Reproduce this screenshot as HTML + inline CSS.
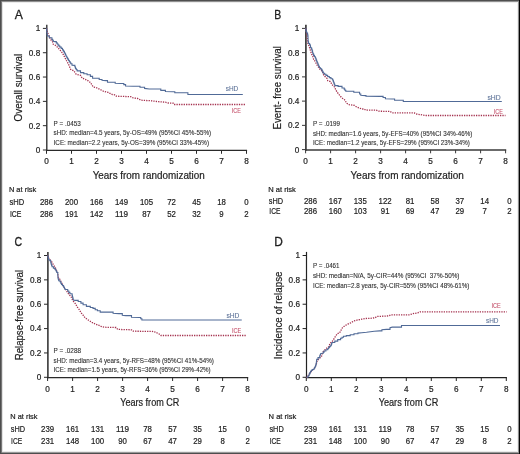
<!DOCTYPE html>
<html><head><meta charset="utf-8"><style>
html,body{margin:0;padding:0;background:#fff;}
#f{position:relative;width:520px;height:454px;overflow:hidden;background:#fff;font-family:"Liberation Sans", sans-serif;}
.b{position:absolute;}
</style></head><body><div id="f">
<svg width="520" height="454" viewBox="0 0 520 454" style="position:absolute;left:0;top:0;will-change:transform">
<g font-family='"Liberation Sans", sans-serif' fill="#1e1e1e" stroke="#1e1e1e"><text x="14.7" y="18.7" font-size="12.5" textLength="8.1" lengthAdjust="spacingAndGlyphs" stroke-width="0.3">A</text><g transform="translate(21.5,121.4) rotate(-90)"><text x="0" y="0" font-size="10.4" textLength="67.6" lengthAdjust="spacingAndGlyphs" stroke-width="0.2">Overall survival</text></g><path d="M46.8 24.8V151.05" fill="none" stroke="#2a2a2a" stroke-width="1.35"/><path d="M46.12 150.4H247.1" fill="none" stroke="#2a2a2a" stroke-width="1.3"/><path d="M42.9 150H46.8" stroke="#2a2a2a" stroke-width="1"/><text x="40.2" y="152.9" font-size="8.2" stroke-width="0.2" text-anchor="end">0</text><path d="M42.9 125.68H46.8" stroke="#2a2a2a" stroke-width="1"/><text x="40.2" y="128.58" font-size="8.2" stroke-width="0.2" text-anchor="end">0.2</text><path d="M42.9 101.36H46.8" stroke="#2a2a2a" stroke-width="1"/><text x="40.2" y="104.26" font-size="8.2" stroke-width="0.2" text-anchor="end">0.4</text><path d="M42.9 77.04H46.8" stroke="#2a2a2a" stroke-width="1"/><text x="40.2" y="79.94" font-size="8.2" stroke-width="0.2" text-anchor="end">0.6</text><path d="M42.9 52.72H46.8" stroke="#2a2a2a" stroke-width="1"/><text x="40.2" y="55.62" font-size="8.2" stroke-width="0.2" text-anchor="end">0.8</text><path d="M42.9 28.4H46.8" stroke="#2a2a2a" stroke-width="1"/><text x="40.2" y="31.3" font-size="8.2" stroke-width="0.2" text-anchor="end">1</text><path d="M46.5 150.4V153.8" stroke="#2a2a2a" stroke-width="1"/><text x="46.5" y="164.3" font-size="8.2" stroke-width="0.2" text-anchor="middle">0</text><path d="M71.5 150.4V153.8" stroke="#2a2a2a" stroke-width="1"/><text x="71.5" y="164.3" font-size="8.2" stroke-width="0.2" text-anchor="middle">1</text><path d="M96.5 150.4V153.8" stroke="#2a2a2a" stroke-width="1"/><text x="96.5" y="164.3" font-size="8.2" stroke-width="0.2" text-anchor="middle">2</text><path d="M121.5 150.4V153.8" stroke="#2a2a2a" stroke-width="1"/><text x="121.5" y="164.3" font-size="8.2" stroke-width="0.2" text-anchor="middle">3</text><path d="M146.5 150.4V153.8" stroke="#2a2a2a" stroke-width="1"/><text x="146.5" y="164.3" font-size="8.2" stroke-width="0.2" text-anchor="middle">4</text><path d="M171.5 150.4V153.8" stroke="#2a2a2a" stroke-width="1"/><text x="171.5" y="164.3" font-size="8.2" stroke-width="0.2" text-anchor="middle">5</text><path d="M196.5 150.4V153.8" stroke="#2a2a2a" stroke-width="1"/><text x="196.5" y="164.3" font-size="8.2" stroke-width="0.2" text-anchor="middle">6</text><path d="M221.5 150.4V153.8" stroke="#2a2a2a" stroke-width="1"/><text x="221.5" y="164.3" font-size="8.2" stroke-width="0.2" text-anchor="middle">7</text><path d="M246.5 150.4V153.8" stroke="#2a2a2a" stroke-width="1"/><text x="246.5" y="164.3" font-size="8.2" stroke-width="0.2" text-anchor="middle">8</text><text x="92.7" y="178.7" font-size="10.2" textLength="112.1" lengthAdjust="spacingAndGlyphs" stroke-width="0.2">Years from randomization</text><text x="53.6" y="125.6" font-size="7" textLength="27.2" lengthAdjust="spacingAndGlyphs" fill="#333" stroke="#333" stroke-width="0.12">P = .0453</text><text x="53.6" y="135.2" font-size="7" textLength="157.5" lengthAdjust="spacingAndGlyphs" fill="#333" stroke="#333" stroke-width="0.12">sHD: median=4.5 years, 5y-OS=49% (95%CI 45%-55%)</text><text x="53.6" y="144.8" font-size="7" textLength="155.4" lengthAdjust="spacingAndGlyphs" fill="#333" stroke="#333" stroke-width="0.12">ICE: median=2.2 years, 5y-OS=39% (95%CI 33%-45%)</text><text x="225.7" y="90.6" font-size="6.6" textLength="12.5" lengthAdjust="spacingAndGlyphs" fill="#5f7499" stroke="#5f7499" stroke-width="0.1">sHD</text><text x="231.8" y="112.7" font-size="7.6" textLength="9.2" lengthAdjust="spacingAndGlyphs" fill="#c4506a" stroke="#c4506a" stroke-width="0.1">ICE</text><text x="8.9" y="191.8" font-size="7.4" textLength="27.4" lengthAdjust="spacingAndGlyphs" stroke-width="0.2">N at risk</text><text x="9.4" y="204.9" font-size="8.6" textLength="14.7" lengthAdjust="spacingAndGlyphs" stroke-width="0.2">sHD</text><text x="9.9" y="216.9" font-size="8.6" textLength="11.5" lengthAdjust="spacingAndGlyphs" stroke-width="0.2">ICE</text><text x="46.5" y="204.9" font-size="8.3" textLength="13.05" lengthAdjust="spacingAndGlyphs" stroke-width="0.2" text-anchor="middle">286</text><text x="46.5" y="216.9" font-size="8.3" textLength="13.05" lengthAdjust="spacingAndGlyphs" stroke-width="0.2" text-anchor="middle">286</text><text x="71.5" y="204.9" font-size="8.3" textLength="13.05" lengthAdjust="spacingAndGlyphs" stroke-width="0.2" text-anchor="middle">200</text><text x="71.5" y="216.9" font-size="8.3" textLength="13.05" lengthAdjust="spacingAndGlyphs" stroke-width="0.2" text-anchor="middle">191</text><text x="96.5" y="204.9" font-size="8.3" textLength="13.05" lengthAdjust="spacingAndGlyphs" stroke-width="0.2" text-anchor="middle">166</text><text x="96.5" y="216.9" font-size="8.3" textLength="13.05" lengthAdjust="spacingAndGlyphs" stroke-width="0.2" text-anchor="middle">142</text><text x="121.5" y="204.9" font-size="8.3" textLength="13.05" lengthAdjust="spacingAndGlyphs" stroke-width="0.2" text-anchor="middle">149</text><text x="121.5" y="216.9" font-size="8.3" textLength="13.05" lengthAdjust="spacingAndGlyphs" stroke-width="0.2" text-anchor="middle">119</text><text x="146.5" y="204.9" font-size="8.3" textLength="13.05" lengthAdjust="spacingAndGlyphs" stroke-width="0.2" text-anchor="middle">105</text><text x="146.5" y="216.9" font-size="8.3" textLength="8.7" lengthAdjust="spacingAndGlyphs" stroke-width="0.2" text-anchor="middle">87</text><text x="171.5" y="204.9" font-size="8.3" textLength="8.7" lengthAdjust="spacingAndGlyphs" stroke-width="0.2" text-anchor="middle">72</text><text x="171.5" y="216.9" font-size="8.3" textLength="8.7" lengthAdjust="spacingAndGlyphs" stroke-width="0.2" text-anchor="middle">52</text><text x="196.5" y="204.9" font-size="8.3" textLength="8.7" lengthAdjust="spacingAndGlyphs" stroke-width="0.2" text-anchor="middle">45</text><text x="196.5" y="216.9" font-size="8.3" textLength="8.7" lengthAdjust="spacingAndGlyphs" stroke-width="0.2" text-anchor="middle">32</text><text x="221.5" y="204.9" font-size="8.3" textLength="8.7" lengthAdjust="spacingAndGlyphs" stroke-width="0.2" text-anchor="middle">18</text><text x="221.5" y="216.9" font-size="8.3" textLength="4.35" lengthAdjust="spacingAndGlyphs" stroke-width="0.2" text-anchor="middle">9</text><text x="246.5" y="204.9" font-size="8.3" textLength="4.35" lengthAdjust="spacingAndGlyphs" stroke-width="0.2" text-anchor="middle">0</text><text x="246.5" y="216.9" font-size="8.3" textLength="4.35" lengthAdjust="spacingAndGlyphs" stroke-width="0.2" text-anchor="middle">2</text><path d="M46.5 28.4 L47.5 32.8 L48.5 34.5 L50.2 39 L52.4 41.6 L53.3 44.3 L55 45.1 L57.2 46.9 L60.3 50.4 L62.5 53.1 L64.7 57.3 L66.3 60.3 L68.3 63.8 L70.6 69.3 L73.9 70.9 L76.1 74.2 L80.5 75.3 L82.2 78.1 L84.9 79.2 L88.2 80.8 L90.4 82.5 L93.2 86.9 L97 88 L100.3 89.6 L103.6 91.3 L108.1 92.4 L112.5 94.6 L114.6 94.8 L116.3 96.2 L130.8 96.7 L133.1 97.9 L137.7 98.5 L141.2 100.2 L151.5 100.8 L158.5 101.7 L165.4 102.2 L168.3 103 L173.2 103.2 L174 104.5 L246 104.5" fill="none" stroke="#a5324f" stroke-width="1.3" stroke-dasharray="1.3 1.1"/><path d="M46.5 28.4H46.6V29.55H46.7V30.7H46.8V31.85H46.9V33H47.1V34.5H47.3V36H49.3V37.7H51.9V39.4H52.6V40.3H53.3V41.2L55 41.6H56.3V42.9H57.2V44H58.1V45.1H59V46.1H59.9V47.1H61.2V48.35H62.5V49.6H63.13V50.63H63.77V51.67H64.4V52.7H64.97V53.87H65.53V55.03H66.1V56.2H66.72V57.28H67.35V58.35H67.97V59.42H68.6V60.5H69.33V61.6H70.07V62.7H70.8V63.8H72V65.2L74.5 65.4H74.87V66.5H75.23V67.6H75.6V68.7H76.4V69.8H77.2V70.9H80.5V72.6H83.8V73.7H87.1V74.8H90.4V76.4H92.6V78.1L97 78.3H99.2V79.5H102V80.3L105.9 80.6H107.5V82.2L113.5 82.3H115.2V83.2L120.4 83.5H123.8V84.6H125.6V86L133.1 86.3H140V87.3H144.6V88.4L149.2 89L158.5 89H160.8V90.4H165.4V91.5L173.2 91.8H174.8V92.7L186.2 92.7H187.9V94.5L242.8 94.5" fill="none" stroke="#506a97" stroke-width="1.1"/></g>
<g font-family='"Liberation Sans", sans-serif' fill="#1e1e1e" stroke="#1e1e1e"><text x="274.2" y="18.7" font-size="12.5" textLength="7" lengthAdjust="spacingAndGlyphs" stroke-width="0.3">B</text><g transform="translate(281,129.5) rotate(-90)"><text x="0" y="0" font-size="10.4" textLength="83.4" lengthAdjust="spacingAndGlyphs" stroke-width="0.2">Event- free survival</text></g><path d="M305.9 24.8V150.65" fill="none" stroke="#3a3a3a" stroke-width="1.7"/><path d="M305.05 149.9H506.2" fill="none" stroke="#3a3a3a" stroke-width="1.5"/><path d="M302 149.6H305.9" stroke="#3a3a3a" stroke-width="1"/><text x="299.3" y="152.5" font-size="8.2" stroke-width="0.2" text-anchor="end">0</text><path d="M302 125.36H305.9" stroke="#3a3a3a" stroke-width="1"/><text x="299.3" y="128.26" font-size="8.2" stroke-width="0.2" text-anchor="end">0.2</text><path d="M302 101.12H305.9" stroke="#3a3a3a" stroke-width="1"/><text x="299.3" y="104.02" font-size="8.2" stroke-width="0.2" text-anchor="end">0.4</text><path d="M302 76.88H305.9" stroke="#3a3a3a" stroke-width="1"/><text x="299.3" y="79.78" font-size="8.2" stroke-width="0.2" text-anchor="end">0.6</text><path d="M302 52.64H305.9" stroke="#3a3a3a" stroke-width="1"/><text x="299.3" y="55.54" font-size="8.2" stroke-width="0.2" text-anchor="end">0.8</text><path d="M302 28.4H305.9" stroke="#3a3a3a" stroke-width="1"/><text x="299.3" y="31.3" font-size="8.2" stroke-width="0.2" text-anchor="end">1</text><path d="M305.6 149.9V153.3" stroke="#3a3a3a" stroke-width="1"/><text x="305.6" y="163.9" font-size="8.2" stroke-width="0.2" text-anchor="middle">0</text><path d="M330.6 149.9V153.3" stroke="#3a3a3a" stroke-width="1"/><text x="330.6" y="163.9" font-size="8.2" stroke-width="0.2" text-anchor="middle">1</text><path d="M355.6 149.9V153.3" stroke="#3a3a3a" stroke-width="1"/><text x="355.6" y="163.9" font-size="8.2" stroke-width="0.2" text-anchor="middle">2</text><path d="M380.6 149.9V153.3" stroke="#3a3a3a" stroke-width="1"/><text x="380.6" y="163.9" font-size="8.2" stroke-width="0.2" text-anchor="middle">3</text><path d="M405.6 149.9V153.3" stroke="#3a3a3a" stroke-width="1"/><text x="405.6" y="163.9" font-size="8.2" stroke-width="0.2" text-anchor="middle">4</text><path d="M430.6 149.9V153.3" stroke="#3a3a3a" stroke-width="1"/><text x="430.6" y="163.9" font-size="8.2" stroke-width="0.2" text-anchor="middle">5</text><path d="M455.6 149.9V153.3" stroke="#3a3a3a" stroke-width="1"/><text x="455.6" y="163.9" font-size="8.2" stroke-width="0.2" text-anchor="middle">6</text><path d="M480.6 149.9V153.3" stroke="#3a3a3a" stroke-width="1"/><text x="480.6" y="163.9" font-size="8.2" stroke-width="0.2" text-anchor="middle">7</text><path d="M505.6 149.9V153.3" stroke="#3a3a3a" stroke-width="1"/><text x="505.6" y="163.9" font-size="8.2" stroke-width="0.2" text-anchor="middle">8</text><text x="350.6" y="178.7" font-size="10.2" textLength="113.3" lengthAdjust="spacingAndGlyphs" stroke-width="0.2">Years from randomization</text><text x="312.9" y="125.6" font-size="7" textLength="27" lengthAdjust="spacingAndGlyphs" fill="#333" stroke="#333" stroke-width="0.12">P = .0199</text><text x="312.9" y="135.7" font-size="7" textLength="159.5" lengthAdjust="spacingAndGlyphs" fill="#333" stroke="#333" stroke-width="0.12">sHD: median=1.6 years, 5y-EFS=40% (95%CI 34%-46%)</text><text x="312.9" y="144.8" font-size="7" textLength="157" lengthAdjust="spacingAndGlyphs" fill="#333" stroke="#333" stroke-width="0.12">ICE: median=1.2 years, 5y-EFS=29% (95%CI 23%-34%)</text><text x="487.4" y="100.3" font-size="6.6" textLength="13.2" lengthAdjust="spacingAndGlyphs" fill="#5f7499" stroke="#5f7499" stroke-width="0.1">sHD</text><text x="493.7" y="113.9" font-size="7.6" textLength="9.1" lengthAdjust="spacingAndGlyphs" fill="#c4506a" stroke="#c4506a" stroke-width="0.1">ICE</text><text x="268.2" y="192.4" font-size="7.4" textLength="27.7" lengthAdjust="spacingAndGlyphs" stroke-width="0.2">N at risk</text><text x="268.8" y="204.2" font-size="8.6" textLength="14.3" lengthAdjust="spacingAndGlyphs" stroke-width="0.2">sHD</text><text x="269.3" y="214.4" font-size="8.6" textLength="11.1" lengthAdjust="spacingAndGlyphs" stroke-width="0.2">ICE</text><text x="310.5" y="204.2" font-size="8.3" textLength="13.05" lengthAdjust="spacingAndGlyphs" stroke-width="0.2" text-anchor="middle">286</text><text x="310.5" y="214.4" font-size="8.3" textLength="13.05" lengthAdjust="spacingAndGlyphs" stroke-width="0.2" text-anchor="middle">286</text><text x="335.38" y="204.2" font-size="8.3" textLength="13.05" lengthAdjust="spacingAndGlyphs" stroke-width="0.2" text-anchor="middle">167</text><text x="335.38" y="214.4" font-size="8.3" textLength="13.05" lengthAdjust="spacingAndGlyphs" stroke-width="0.2" text-anchor="middle">160</text><text x="360.26" y="204.2" font-size="8.3" textLength="13.05" lengthAdjust="spacingAndGlyphs" stroke-width="0.2" text-anchor="middle">135</text><text x="360.26" y="214.4" font-size="8.3" textLength="13.05" lengthAdjust="spacingAndGlyphs" stroke-width="0.2" text-anchor="middle">103</text><text x="385.14" y="204.2" font-size="8.3" textLength="13.05" lengthAdjust="spacingAndGlyphs" stroke-width="0.2" text-anchor="middle">122</text><text x="385.14" y="214.4" font-size="8.3" textLength="8.7" lengthAdjust="spacingAndGlyphs" stroke-width="0.2" text-anchor="middle">91</text><text x="410.02" y="204.2" font-size="8.3" textLength="8.7" lengthAdjust="spacingAndGlyphs" stroke-width="0.2" text-anchor="middle">81</text><text x="410.02" y="214.4" font-size="8.3" textLength="8.7" lengthAdjust="spacingAndGlyphs" stroke-width="0.2" text-anchor="middle">69</text><text x="434.9" y="204.2" font-size="8.3" textLength="8.7" lengthAdjust="spacingAndGlyphs" stroke-width="0.2" text-anchor="middle">58</text><text x="434.9" y="214.4" font-size="8.3" textLength="8.7" lengthAdjust="spacingAndGlyphs" stroke-width="0.2" text-anchor="middle">47</text><text x="459.78" y="204.2" font-size="8.3" textLength="8.7" lengthAdjust="spacingAndGlyphs" stroke-width="0.2" text-anchor="middle">37</text><text x="459.78" y="214.4" font-size="8.3" textLength="8.7" lengthAdjust="spacingAndGlyphs" stroke-width="0.2" text-anchor="middle">29</text><text x="484.66" y="204.2" font-size="8.3" textLength="8.7" lengthAdjust="spacingAndGlyphs" stroke-width="0.2" text-anchor="middle">14</text><text x="484.66" y="214.4" font-size="8.3" textLength="4.35" lengthAdjust="spacingAndGlyphs" stroke-width="0.2" text-anchor="middle">7</text><text x="509.54" y="204.2" font-size="8.3" textLength="4.35" lengthAdjust="spacingAndGlyphs" stroke-width="0.2" text-anchor="middle">0</text><text x="509.54" y="214.4" font-size="8.3" textLength="4.35" lengthAdjust="spacingAndGlyphs" stroke-width="0.2" text-anchor="middle">2</text><path d="M305.6 28.4 L306.3 31.9 L307 35.3 L307.3 39.2 L307.6 41.9 L308 43.8 L308.9 45.8 L309.6 47.8 L310.3 50.1 L310.9 52.1 L311.6 54.1 L312.6 55.4 L313.6 59.3 L315.2 61.5 L317.1 65.2 L319.4 68.4 L320.6 70.2 L322.2 70.9 L323.3 74.2 L324.9 76.5 L327.1 78.4 L327.7 80.6 L330.4 81.6 L332.1 84.7 L334.7 87.2 L335.9 90.2 L338.3 93.7 L341.4 97.4 L344.2 99.6 L345.2 100.4 L346.3 103 L349.2 104.7 L354.4 105.4 L356.2 106.7 L359 107.9 L361.9 109 L364.2 109 L365.5 110 L376.2 110.2 L378.5 111.2 L390 111.4 L392.3 112.9 L414.2 112.9 L416.5 114 L420 114.6 L426 115.5 L505.5 115.5" fill="none" stroke="#a5324f" stroke-width="1.3" stroke-dasharray="1.3 1.1"/><path d="M305.6 28.4H305.8V29.85H306V31.3H306.5V32.3H307V33.3H307.6V34.6H307.8V35.9H308V37.2L308.2 41.2H308.4V42.35H308.6V43.5H309.6V44.8H310.3V45.8H310.45V46.8H310.6V47.8H311.6V49.1H311.95V50.1H312.3V51.1H312.6V52.45H312.9V53.8H313.6V55.4H314.5V56.7H315.4V58H315.85V59.17H316.3V60.35H316.75V61.53H317.2V62.7H317.75V63.95H318.3V65.2H318.85V66.45H319.4V67.7H320.5V68.8H321.6V69.9H322.17V71H322.73V72.1H323.3V73.2H324.65V74.3H326V75.4H327.65V76.5H329.3V77.6H330.95V78.7H332.6V79.8H333.03V80.9H333.45V82H333.88V83.1H334.3V84.2H334.8V85.6H338.1V86.4H342V88H344.2V89.1H344.9V90.3H345.8V91.2H353.8V92.3H359.6V94H360.8V95.2L365.4 95.6H366V96.3L380.2 96.4H383.1V97.5H385.4V98.7L392.3 99H394.6V100.2L401 100.2H403.3V101.5L501.8 101.5" fill="none" stroke="#506a97" stroke-width="1.1"/></g>
<g font-family='"Liberation Sans", sans-serif' fill="#1e1e1e" stroke="#1e1e1e"><text x="14.6" y="246.2" font-size="12.5" textLength="7.6" lengthAdjust="spacingAndGlyphs" stroke-width="0.3">C</text><g transform="translate(22.9,360.3) rotate(-90)"><text x="0" y="0" font-size="10.4" textLength="90.4" lengthAdjust="spacingAndGlyphs" stroke-width="0.2">Relapse-free survival</text></g><path d="M47.9 251.9V378.25" fill="none" stroke="#2a2a2a" stroke-width="1.5"/><path d="M47.15 377.6H248.2" fill="none" stroke="#2a2a2a" stroke-width="1.3"/><path d="M44 377.3H47.9" stroke="#2a2a2a" stroke-width="1"/><text x="41.3" y="380.2" font-size="8.2" stroke-width="0.2" text-anchor="end">0</text><path d="M44 352.94H47.9" stroke="#2a2a2a" stroke-width="1"/><text x="41.3" y="355.84" font-size="8.2" stroke-width="0.2" text-anchor="end">0.2</text><path d="M44 328.58H47.9" stroke="#2a2a2a" stroke-width="1"/><text x="41.3" y="331.48" font-size="8.2" stroke-width="0.2" text-anchor="end">0.4</text><path d="M44 304.22H47.9" stroke="#2a2a2a" stroke-width="1"/><text x="41.3" y="307.12" font-size="8.2" stroke-width="0.2" text-anchor="end">0.6</text><path d="M44 279.86H47.9" stroke="#2a2a2a" stroke-width="1"/><text x="41.3" y="282.76" font-size="8.2" stroke-width="0.2" text-anchor="end">0.8</text><path d="M44 255.5H47.9" stroke="#2a2a2a" stroke-width="1"/><text x="41.3" y="258.4" font-size="8.2" stroke-width="0.2" text-anchor="end">1</text><path d="M47.6 377.6V381" stroke="#2a2a2a" stroke-width="1"/><text x="47.6" y="391.6" font-size="8.2" stroke-width="0.2" text-anchor="middle">0</text><path d="M72.6 377.6V381" stroke="#2a2a2a" stroke-width="1"/><text x="72.6" y="391.6" font-size="8.2" stroke-width="0.2" text-anchor="middle">1</text><path d="M97.6 377.6V381" stroke="#2a2a2a" stroke-width="1"/><text x="97.6" y="391.6" font-size="8.2" stroke-width="0.2" text-anchor="middle">2</text><path d="M122.6 377.6V381" stroke="#2a2a2a" stroke-width="1"/><text x="122.6" y="391.6" font-size="8.2" stroke-width="0.2" text-anchor="middle">3</text><path d="M147.6 377.6V381" stroke="#2a2a2a" stroke-width="1"/><text x="147.6" y="391.6" font-size="8.2" stroke-width="0.2" text-anchor="middle">4</text><path d="M172.6 377.6V381" stroke="#2a2a2a" stroke-width="1"/><text x="172.6" y="391.6" font-size="8.2" stroke-width="0.2" text-anchor="middle">5</text><path d="M197.6 377.6V381" stroke="#2a2a2a" stroke-width="1"/><text x="197.6" y="391.6" font-size="8.2" stroke-width="0.2" text-anchor="middle">6</text><path d="M222.6 377.6V381" stroke="#2a2a2a" stroke-width="1"/><text x="222.6" y="391.6" font-size="8.2" stroke-width="0.2" text-anchor="middle">7</text><path d="M247.6 377.6V381" stroke="#2a2a2a" stroke-width="1"/><text x="247.6" y="391.6" font-size="8.2" stroke-width="0.2" text-anchor="middle">8</text><text x="120.2" y="406" font-size="10.2" textLength="59.2" lengthAdjust="spacingAndGlyphs" stroke-width="0.2">Years from CR</text><text x="53.6" y="353.4" font-size="7" textLength="27.4" lengthAdjust="spacingAndGlyphs" fill="#333" stroke="#333" stroke-width="0.12">P = .0288</text><text x="53.6" y="363" font-size="7" textLength="160.35" lengthAdjust="spacingAndGlyphs" fill="#333" stroke="#333" stroke-width="0.12">sHD: median=3.4 years, 5y-RFS=48% (95%CI 41%-54%)</text><text x="53.6" y="372.3" font-size="7" textLength="157.1" lengthAdjust="spacingAndGlyphs" fill="#333" stroke="#333" stroke-width="0.12">ICE: median=1.5 years, 5y-RFS=36% (95%CI 29%-42%)</text><text x="226.45" y="318" font-size="6.6" textLength="13" lengthAdjust="spacingAndGlyphs" fill="#5f7499" stroke="#5f7499" stroke-width="0.1">sHD</text><text x="232" y="332.5" font-size="7.6" textLength="9.35" lengthAdjust="spacingAndGlyphs" fill="#c4506a" stroke="#c4506a" stroke-width="0.1">ICE</text><text x="10.2" y="419" font-size="7.4" textLength="27.3" lengthAdjust="spacingAndGlyphs" stroke-width="0.2">N at risk</text><text x="10.8" y="431.9" font-size="8.6" textLength="14.3" lengthAdjust="spacingAndGlyphs" stroke-width="0.2">sHD</text><text x="11.1" y="443.9" font-size="8.6" textLength="11.1" lengthAdjust="spacingAndGlyphs" stroke-width="0.2">ICE</text><text x="47.6" y="431.9" font-size="8.3" textLength="13.05" lengthAdjust="spacingAndGlyphs" stroke-width="0.2" text-anchor="middle">239</text><text x="47.6" y="443.9" font-size="8.3" textLength="13.05" lengthAdjust="spacingAndGlyphs" stroke-width="0.2" text-anchor="middle">231</text><text x="72.6" y="431.9" font-size="8.3" textLength="13.05" lengthAdjust="spacingAndGlyphs" stroke-width="0.2" text-anchor="middle">161</text><text x="72.6" y="443.9" font-size="8.3" textLength="13.05" lengthAdjust="spacingAndGlyphs" stroke-width="0.2" text-anchor="middle">148</text><text x="97.6" y="431.9" font-size="8.3" textLength="13.05" lengthAdjust="spacingAndGlyphs" stroke-width="0.2" text-anchor="middle">131</text><text x="97.6" y="443.9" font-size="8.3" textLength="13.05" lengthAdjust="spacingAndGlyphs" stroke-width="0.2" text-anchor="middle">100</text><text x="122.6" y="431.9" font-size="8.3" textLength="13.05" lengthAdjust="spacingAndGlyphs" stroke-width="0.2" text-anchor="middle">119</text><text x="122.6" y="443.9" font-size="8.3" textLength="8.7" lengthAdjust="spacingAndGlyphs" stroke-width="0.2" text-anchor="middle">90</text><text x="147.6" y="431.9" font-size="8.3" textLength="8.7" lengthAdjust="spacingAndGlyphs" stroke-width="0.2" text-anchor="middle">78</text><text x="147.6" y="443.9" font-size="8.3" textLength="8.7" lengthAdjust="spacingAndGlyphs" stroke-width="0.2" text-anchor="middle">67</text><text x="172.6" y="431.9" font-size="8.3" textLength="8.7" lengthAdjust="spacingAndGlyphs" stroke-width="0.2" text-anchor="middle">57</text><text x="172.6" y="443.9" font-size="8.3" textLength="8.7" lengthAdjust="spacingAndGlyphs" stroke-width="0.2" text-anchor="middle">47</text><text x="197.6" y="431.9" font-size="8.3" textLength="8.7" lengthAdjust="spacingAndGlyphs" stroke-width="0.2" text-anchor="middle">35</text><text x="197.6" y="443.9" font-size="8.3" textLength="8.7" lengthAdjust="spacingAndGlyphs" stroke-width="0.2" text-anchor="middle">29</text><text x="222.6" y="431.9" font-size="8.3" textLength="8.7" lengthAdjust="spacingAndGlyphs" stroke-width="0.2" text-anchor="middle">15</text><text x="222.6" y="443.9" font-size="8.3" textLength="4.35" lengthAdjust="spacingAndGlyphs" stroke-width="0.2" text-anchor="middle">8</text><text x="247.6" y="431.9" font-size="8.3" textLength="4.35" lengthAdjust="spacingAndGlyphs" stroke-width="0.2" text-anchor="middle">0</text><text x="247.6" y="443.9" font-size="8.3" textLength="4.35" lengthAdjust="spacingAndGlyphs" stroke-width="0.2" text-anchor="middle">2</text><path d="M47.6 255.5 L48.5 257.9 L49.8 259.3 L51.2 261 L52.5 263.2 L53.8 265.4 L55.1 267.2 L56.5 270.3 L57.8 273.3 L58.2 276.9 L60 279.5 L61.4 282.5 L63.7 286.5 L64.8 288.3 L66.6 291 L68.8 294.3 L71 296.5 L72.7 300.4 L75.4 303.7 L77.6 307.5 L79.3 309.7 L80.9 312.5 L83.1 315.2 L85.3 318 L88.6 320.2 L91.9 322.4 L95.2 324.1 L98.5 325.2 L101.9 326.8 L106.3 327.3 L116 327.5 L117.7 329.4 L131.5 329.8 L133.3 331.2 L152.3 331.4 L155.8 332.3 L159.2 334 L161 335.5 L246.25 335.5" fill="none" stroke="#a5324f" stroke-width="1.3" stroke-dasharray="1.3 1.1"/><path d="M47.6 255.5H47.85V256.5H48.1V257.5H48.3V258.6H48.5V259.7H49.8V260.6H50.7V262.3H50.95V263.2H51.2V264.1H51.6V265.4H52V266.7H53.4V268.1H54.7V268.9H55.35V269.8H56V270.7H56.45V271.6H56.9V272.5H57.8V274.2L58 278.2H58.35V279.5H58.7V280.8H60V281.7H60.75V283.1H61.5V284.5H62.45V285.45H63.4V286.4H63.93V287.43H64.47V288.47H65V289.5H67.7V291H68.8V292.4H69.9V293.8H72.1V295.4H72.38V296.5H72.65V297.6H72.92V298.7H73.2V299.8L74.9 300.4H78.2V301.5H80.9V303.1H83.1V304.8H86.4V306.4H90.3V307.5H93V308.4H95.2V309.7H97.4V310.8H100.2V312.1L110.8 312.1H113.1V313.3L118.8 313.6H122.3V315.2L125.8 315.6H131.5V317.3L139.6 317.5H140.75V318.75H141.9V320L241.75 320" fill="none" stroke="#506a97" stroke-width="1.1"/></g>
<g font-family='"Liberation Sans", sans-serif' fill="#1e1e1e" stroke="#1e1e1e"><text x="274.3" y="246.1" font-size="12.5" textLength="8.6" lengthAdjust="spacingAndGlyphs" stroke-width="0.3">D</text><g transform="translate(281.6,359.2) rotate(-90)"><text x="0" y="0" font-size="10.4" textLength="87.7" lengthAdjust="spacingAndGlyphs" stroke-width="0.2">Incidence of relapse</text></g><path d="M306.5 251.9V378.25" fill="none" stroke="#222" stroke-width="1.2"/><path d="M305.9 377.6H506.9" fill="none" stroke="#222" stroke-width="1.3"/><path d="M302.6 377.3H306.5" stroke="#222" stroke-width="1"/><text x="300" y="380.2" font-size="8.2" stroke-width="0.2" text-anchor="end">0</text><path d="M302.6 352.94H306.5" stroke="#222" stroke-width="1"/><text x="300" y="355.84" font-size="8.2" stroke-width="0.2" text-anchor="end">0.2</text><path d="M302.6 328.58H306.5" stroke="#222" stroke-width="1"/><text x="300" y="331.48" font-size="8.2" stroke-width="0.2" text-anchor="end">0.4</text><path d="M302.6 304.22H306.5" stroke="#222" stroke-width="1"/><text x="300" y="307.12" font-size="8.2" stroke-width="0.2" text-anchor="end">0.6</text><path d="M302.6 279.86H306.5" stroke="#222" stroke-width="1"/><text x="300" y="282.76" font-size="8.2" stroke-width="0.2" text-anchor="end">0.8</text><path d="M302.6 255.5H306.5" stroke="#222" stroke-width="1"/><text x="300" y="258.4" font-size="8.2" stroke-width="0.2" text-anchor="end">1</text><path d="M306.3 377.6V381" stroke="#222" stroke-width="1"/><text x="306.3" y="391.6" font-size="8.2" stroke-width="0.2" text-anchor="middle">0</text><path d="M331.3 377.6V381" stroke="#222" stroke-width="1"/><text x="331.3" y="391.6" font-size="8.2" stroke-width="0.2" text-anchor="middle">1</text><path d="M356.3 377.6V381" stroke="#222" stroke-width="1"/><text x="356.3" y="391.6" font-size="8.2" stroke-width="0.2" text-anchor="middle">2</text><path d="M381.3 377.6V381" stroke="#222" stroke-width="1"/><text x="381.3" y="391.6" font-size="8.2" stroke-width="0.2" text-anchor="middle">3</text><path d="M406.3 377.6V381" stroke="#222" stroke-width="1"/><text x="406.3" y="391.6" font-size="8.2" stroke-width="0.2" text-anchor="middle">4</text><path d="M431.3 377.6V381" stroke="#222" stroke-width="1"/><text x="431.3" y="391.6" font-size="8.2" stroke-width="0.2" text-anchor="middle">5</text><path d="M456.3 377.6V381" stroke="#222" stroke-width="1"/><text x="456.3" y="391.6" font-size="8.2" stroke-width="0.2" text-anchor="middle">6</text><path d="M481.3 377.6V381" stroke="#222" stroke-width="1"/><text x="481.3" y="391.6" font-size="8.2" stroke-width="0.2" text-anchor="middle">7</text><path d="M506.3 377.6V381" stroke="#222" stroke-width="1"/><text x="506.3" y="391.6" font-size="8.2" stroke-width="0.2" text-anchor="middle">8</text><text x="378.7" y="406" font-size="10.2" textLength="59.6" lengthAdjust="spacingAndGlyphs" stroke-width="0.2">Years from CR</text><text x="312.9" y="268.3" font-size="7" textLength="26.6" lengthAdjust="spacingAndGlyphs" fill="#333" stroke="#333" stroke-width="0.12">P = .0461</text><text x="312.9" y="278.3" font-size="7" textLength="146.55" lengthAdjust="spacingAndGlyphs" fill="#333" stroke="#333" stroke-width="0.12">sHD: median=N/A, 5y-CIR=44% (95%CI  37%-50%)</text><text x="312.9" y="287.8" font-size="7" textLength="156.55" lengthAdjust="spacingAndGlyphs" fill="#333" stroke="#333" stroke-width="0.12">ICE: median=2.8 years, 5y-CIR=55% (95%CI 48%-61%)</text><text x="485.95" y="323.25" font-size="6.6" textLength="12.5" lengthAdjust="spacingAndGlyphs" fill="#5f7499" stroke="#5f7499" stroke-width="0.1">sHD</text><text x="491.5" y="308.25" font-size="7.6" textLength="9.35" lengthAdjust="spacingAndGlyphs" fill="#c4506a" stroke="#c4506a" stroke-width="0.1">ICE</text><text x="268.6" y="419" font-size="7.4" textLength="27.7" lengthAdjust="spacingAndGlyphs" stroke-width="0.2">N at risk</text><text x="269.4" y="431.9" font-size="8.6" textLength="14.3" lengthAdjust="spacingAndGlyphs" stroke-width="0.2">sHD</text><text x="269.7" y="443.9" font-size="8.6" textLength="11.1" lengthAdjust="spacingAndGlyphs" stroke-width="0.2">ICE</text><text x="310.5" y="431.9" font-size="8.3" textLength="13.05" lengthAdjust="spacingAndGlyphs" stroke-width="0.2" text-anchor="middle">239</text><text x="310.5" y="443.9" font-size="8.3" textLength="13.05" lengthAdjust="spacingAndGlyphs" stroke-width="0.2" text-anchor="middle">231</text><text x="335.38" y="431.9" font-size="8.3" textLength="13.05" lengthAdjust="spacingAndGlyphs" stroke-width="0.2" text-anchor="middle">161</text><text x="335.38" y="443.9" font-size="8.3" textLength="13.05" lengthAdjust="spacingAndGlyphs" stroke-width="0.2" text-anchor="middle">148</text><text x="360.26" y="431.9" font-size="8.3" textLength="13.05" lengthAdjust="spacingAndGlyphs" stroke-width="0.2" text-anchor="middle">131</text><text x="360.26" y="443.9" font-size="8.3" textLength="13.05" lengthAdjust="spacingAndGlyphs" stroke-width="0.2" text-anchor="middle">100</text><text x="385.14" y="431.9" font-size="8.3" textLength="13.05" lengthAdjust="spacingAndGlyphs" stroke-width="0.2" text-anchor="middle">119</text><text x="385.14" y="443.9" font-size="8.3" textLength="8.7" lengthAdjust="spacingAndGlyphs" stroke-width="0.2" text-anchor="middle">90</text><text x="410.02" y="431.9" font-size="8.3" textLength="8.7" lengthAdjust="spacingAndGlyphs" stroke-width="0.2" text-anchor="middle">78</text><text x="410.02" y="443.9" font-size="8.3" textLength="8.7" lengthAdjust="spacingAndGlyphs" stroke-width="0.2" text-anchor="middle">67</text><text x="434.9" y="431.9" font-size="8.3" textLength="8.7" lengthAdjust="spacingAndGlyphs" stroke-width="0.2" text-anchor="middle">57</text><text x="434.9" y="443.9" font-size="8.3" textLength="8.7" lengthAdjust="spacingAndGlyphs" stroke-width="0.2" text-anchor="middle">47</text><text x="459.78" y="431.9" font-size="8.3" textLength="8.7" lengthAdjust="spacingAndGlyphs" stroke-width="0.2" text-anchor="middle">35</text><text x="459.78" y="443.9" font-size="8.3" textLength="8.7" lengthAdjust="spacingAndGlyphs" stroke-width="0.2" text-anchor="middle">29</text><text x="484.66" y="431.9" font-size="8.3" textLength="8.7" lengthAdjust="spacingAndGlyphs" stroke-width="0.2" text-anchor="middle">15</text><text x="484.66" y="443.9" font-size="8.3" textLength="4.35" lengthAdjust="spacingAndGlyphs" stroke-width="0.2" text-anchor="middle">8</text><text x="509.54" y="431.9" font-size="8.3" textLength="4.35" lengthAdjust="spacingAndGlyphs" stroke-width="0.2" text-anchor="middle">0</text><text x="509.54" y="443.9" font-size="8.3" textLength="4.35" lengthAdjust="spacingAndGlyphs" stroke-width="0.2" text-anchor="middle">2</text><path d="M306.3 377.3 L307 377.3 L309.2 373.9 L311.8 370.8 L314.5 368.2 L316.2 364.7 L317.1 360.7 L319.3 358.5 L321.5 356.3 L323.3 351.5 L325.9 348.8 L329 346.6 L330 343.5 L332.9 340.6 L335.3 336.7 L337.2 333.8 L339.6 332.9 L341.1 330 L342.5 327.6 L344.9 325.7 L347.8 324.2 L350.7 322.8 L354 320.9 L357.9 319.9 L361.7 319.2 L365.6 318.5 L370.4 318.3 L375.2 317.7 L376.7 316.5 L388.8 315.9 L391.2 314.8 L409.6 314.8 L413.1 313.6 L417.7 312.9 L420 311.8 L506.75 311.8" fill="none" stroke="#a5324f" stroke-width="1.3" stroke-dasharray="1.3 1.1"/><path d="M306.3 377.3L307 377.3H307.85V376.25H308.7V375.2H309.3V373.9H309.9V372.6H310.5V371.3H311.4V370.4H312.3V369.5H314V368.2H314.65V367.3H315.3V366.4H315.6V365.37H315.9V364.33H316.2V363.3H316.37V362H316.53V360.7H316.7V359.4H318V357.6H319.7V355.9H320.15V354.8H320.6V353.7L322.4 353.2H323.25V352.1H324.1V351H325.9V349.7H327.7V348.8H328.55V347.7H329.4V346.6H330.3V345.7H331.2V344.8H331.55V343.65H331.9V342.5H334.8V341.1H337.7V339.6H340.6V338.2H342.05V337.25H343.5V336.3H346.3V335.6H350.2V334.8H354V333.8H357.9V333.1L361.7 332.7L366.5 332.2L370.4 331.7L374.2 331.2L379.6 330.9H381.9V329.8L386.5 329.4H390V327.7L392.3 327.1L398.1 327.1H401.5V325.5L500 325.5" fill="none" stroke="#506a97" stroke-width="1.1"/></g>
</svg>
<div class="b" style="left:0;top:2px;width:520px;height:1px;background:#ececec"></div><div class="b" style="left:0;top:451px;width:520px;height:1px;background:#eaeaea"></div><div class="b" style="left:2px;top:0;width:1px;height:454px;background:#e2e2e2"></div><div class="b" style="left:517px;top:0;width:1px;height:454px;background:#f0f0f0"></div><div class="b" style="left:0;top:1px;width:520px;height:1px;background:#909090"></div><div class="b" style="left:0;top:452px;width:520px;height:1px;background:#999"></div><div class="b" style="left:1px;top:0;width:1px;height:454px;background:#777"></div><div class="b" style="left:518px;top:0;width:1px;height:454px;background:#8f8f8f"></div><div class="b" style="left:0;top:0px;width:520px;height:1px;background:#4f4f4f"></div><div class="b" style="left:0;top:453px;width:520px;height:1px;background:#4e4e4e"></div><div class="b" style="left:0px;top:0;width:1px;height:454px;background:#4e4e4e"></div><div class="b" style="left:519px;top:0;width:1px;height:454px;background:#060606"></div>
</div></body></html>
